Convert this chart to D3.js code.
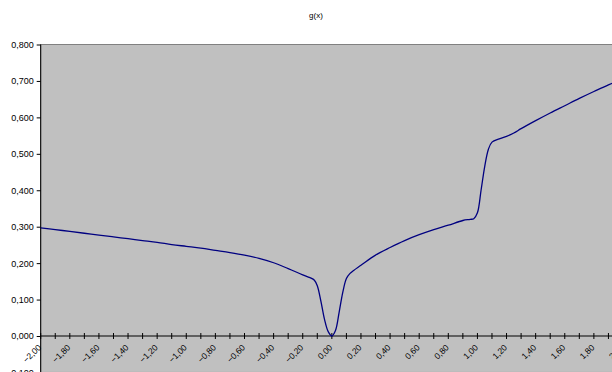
<!DOCTYPE html>
<html>
<head>
<meta charset="utf-8">
<script src="https://cdn.jsdelivr.net/npm/d3@7"></script>
<style>
  body { margin: 0; background: #fff; }
  svg { display: block; }
  text { font-family: "Liberation Sans", Arial, sans-serif; }
</style>
</head>
<body>
<div id="chart"></div>
<script>
// g(x)
var xs = [-2.0, -1.9, -1.8, -1.7, -1.6, -1.5, -1.4, -1.3, -1.2, -1.1,
          -1.0, -0.9, -0.8, -0.7, -0.6, -0.5, -0.4, -0.3, -0.2, -0.15,
          -0.12, -0.1, -0.075, -0.05, -0.025, 0.0, 0.025, 0.05, 0.075, 0.1,
          0.125, 0.15, 0.2, 0.3, 0.4, 0.5, 0.6, 0.7, 0.8, 0.9,
          0.95, 0.975, 1.0, 1.025, 1.05, 1.075, 1.1, 1.15, 1.2, 1.25,
          1.3, 1.4, 1.5, 1.6, 1.7, 1.8, 1.9, 2.0];
var gx = [0.297, 0.292, 0.287, 0.282, 0.277, 0.272, 0.267, 0.262, 0.257, 0.251,
          0.246, 0.241, 0.235, 0.229, 0.222, 0.213, 0.201, 0.185, 0.168, 0.160,
          0.153, 0.138, 0.095, 0.045, 0.012, 0.0, 0.015, 0.065, 0.120, 0.158,
          0.172, 0.180, 0.194, 0.222, 0.243, 0.262, 0.278, 0.292, 0.304, 0.317,
          0.320, 0.322, 0.338, 0.400, 0.465, 0.512, 0.532, 0.541, 0.548, 0.557,
          0.569, 0.591, 0.612, 0.632, 0.652, 0.671, 0.689, 0.707];
var yTicks = [-0.1, 0, 0.1, 0.2, 0.3, 0.4, 0.5, 0.6, 0.7, 0.8];
var xLabels = [-2.0, -1.8, -1.6, -1.4, -1.2, -1.0, -0.8, -0.6, -0.4, -0.2,
               0.0, 0.2, 0.4, 0.6, 0.8, 1.0, 1.2, 1.4, 1.6, 1.8, 2.0];

var width = 612, height = 372;
var font = "Liberation Sans, Arial, sans-serif";
var svg = d3.select("#chart").append("svg").attr("width", width).attr("height", height);

var x = d3.scaleLinear().domain([-2, 2]).range([40.7, 623]);
var y = d3.scaleLinear().domain([0, 0.8]).range([336, 44.5]);
var fmt = function(v) { return d3.format(".2f")(v).replace(".", ","); };
var fmtY = function(v) { return d3.format(".3f")(v).replace(".", ","); };

svg.append("text").attr("x", 316).attr("y", 18).attr("text-anchor", "middle")
  .attr("font-family", font).attr("font-size", 8).attr("fill", "#000").text("g(x)");

// plot area
svg.append("rect").attr("x", x(-2)).attr("y", y(0.8))
  .attr("width", x(2) - x(-2)).attr("height", y(-0.1) - y(0.8))
  .attr("fill", "#c0c0c0").attr("stroke", "#808080").attr("stroke-width", 1);

// y axis
var yAxis = svg.append("g").attr("transform", "translate(" + x(-2) + ",0)")
  .call(d3.axisLeft(y).tickValues(yTicks).tickSize(4).tickPadding(3).tickFormat(fmtY));
yAxis.attr("font-family", font);
yAxis.select(".domain").remove();
yAxis.selectAll("line").attr("stroke", "#000");
yAxis.selectAll("text").attr("font-size", 9).attr("fill", "#000");
svg.append("line").attr("x1", x(-2)).attr("x2", x(-2)).attr("y1", y(0.8)).attr("y2", height)
  .attr("stroke", "#000").attr("stroke-width", 1);

// x axis at zero with ticks every 0.1
svg.append("line").attr("x1", x(-2)).attr("x2", width).attr("y1", y(0)).attr("y2", y(0))
  .attr("stroke", "#000").attr("stroke-width", 1);
svg.append("g").selectAll("line").data(d3.range(-20, 21).map(function(i) { return i / 10; }))
  .enter().append("line")
  .attr("x1", function(d) { return x(d); }).attr("x2", function(d) { return x(d); })
  .attr("y1", y(0) - 3).attr("y2", y(0) + 3).attr("stroke", "#000");
svg.append("g").selectAll("text").data(xLabels).enter().append("text")
  .attr("transform", function(d) { return "translate(" + (x(d) - 1) + "," + (y(0) + 10) + ") rotate(-45)"; })
  .attr("text-anchor", "end").attr("dy", "0.35em")
  .attr("font-family", font).attr("font-size", 8.5).attr("fill", "#000")
  .text(fmt);

// curve
var pts = xs.map(function(v, i) { return [v, gx[i]]; });
var line = d3.line().x(function(d) { return x(d[0]); }).y(function(d) { return y(d[1]); })
  .curve(d3.curveCatmullRom.alpha(0.5));
svg.append("path").datum(pts).attr("d", line)
  .attr("fill", "none").attr("stroke", "#000080").attr("stroke-width", 1.3);
</script>
</body>
</html>
